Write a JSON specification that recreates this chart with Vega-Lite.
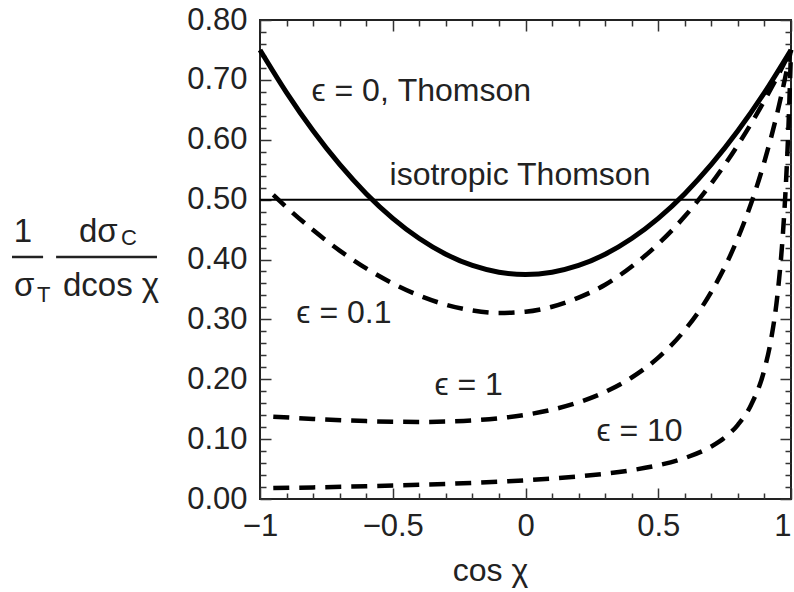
{
  "$schema": "https://vega.github.io/schema/vega-lite/v6.json",
  "width": 531,
  "height": 479,
  "autosize": {"type": "none"},
  "padding": {"left": 260, "top": 20, "right": 3, "bottom": 93},
  "background": "white",
  "config": {
    "view": {"stroke": "#222", "strokeWidth": 2},
    "font": "Liberation Sans",
    "axis": {"grid": false, "domain": false, "labelFlush": false, "tickColor": "#333", "tickWidth": 1.5, "labelColor": "#222", "labelFont": "Liberation Sans", "titleFont": "Liberation Sans", "titleColor": "#222", "labelFontSize": 31, "titleFontWeight": "normal"}
  },
  "datasets": {
    "curves": [
      {"eps": "0", "x": -1, "y": 0.75}, {"eps": "0", "x": -0.9, "y": 0.6788}, {"eps": "0", "x": -0.8, "y": 0.615}, {"eps": "0", "x": -0.7, "y": 0.5588}, {"eps": "0", "x": -0.6, "y": 0.51}, {"eps": "0", "x": -0.5, "y": 0.4688}, {"eps": "0", "x": -0.4, "y": 0.435}, {"eps": "0", "x": -0.3, "y": 0.4088}, {"eps": "0", "x": -0.2, "y": 0.39}, {"eps": "0", "x": -0.1, "y": 0.3788}, {"eps": "0", "x": 0, "y": 0.375}, {"eps": "0", "x": 0.1, "y": 0.3788}, {"eps": "0", "x": 0.2, "y": 0.39}, {"eps": "0", "x": 0.3, "y": 0.4088}, {"eps": "0", "x": 0.4, "y": 0.435}, {"eps": "0", "x": 0.5, "y": 0.4688}, {"eps": "0", "x": 0.6, "y": 0.51}, {"eps": "0", "x": 0.7, "y": 0.5588}, {"eps": "0", "x": 0.8, "y": 0.615}, {"eps": "0", "x": 0.9, "y": 0.6788}, {"eps": "0", "x": 1, "y": 0.75},
      {"eps": "0.1", "x": -0.95, "y": 0.508}, {"eps": "0.1", "x": -0.9, "y": 0.4873}, {"eps": "0.1", "x": -0.8, "y": 0.4491}, {"eps": "0.1", "x": -0.7, "y": 0.4149}, {"eps": "0.1", "x": -0.6, "y": 0.3852}, {"eps": "0.1", "x": -0.5, "y": 0.36}, {"eps": "0.1", "x": -0.4, "y": 0.3397}, {"eps": "0.1", "x": -0.3, "y": 0.3245}, {"eps": "0.1", "x": -0.2, "y": 0.3148}, {"eps": "0.1", "x": -0.1, "y": 0.3107}, {"eps": "0.1", "x": 0, "y": 0.3127}, {"eps": "0.1", "x": 0.1, "y": 0.3211}, {"eps": "0.1", "x": 0.2, "y": 0.3363}, {"eps": "0.1", "x": 0.3, "y": 0.3578}, {"eps": "0.1", "x": 0.4, "y": 0.3883}, {"eps": "0.1", "x": 0.5, "y": 0.426}, {"eps": "0.1", "x": 0.6, "y": 0.4721}, {"eps": "0.1", "x": 0.7, "y": 0.527}, {"eps": "0.1", "x": 0.8, "y": 0.5913}, {"eps": "0.1", "x": 0.9, "y": 0.6654}, {"eps": "0.1", "x": 0.95, "y": 0.7064}, {"eps": "0.1", "x": 1, "y": 0.75},
      {"eps": "1", "x": -0.95, "y": 0.1375}, {"eps": "1", "x": -0.8, "y": 0.1338}, {"eps": "1", "x": -0.6, "y": 0.1301}, {"eps": "1", "x": -0.5, "y": 0.129}, {"eps": "1", "x": -0.4, "y": 0.1287}, {"eps": "1", "x": -0.3, "y": 0.1294}, {"eps": "1", "x": -0.2, "y": 0.1313}, {"eps": "1", "x": -0.1, "y": 0.1349}, {"eps": "1", "x": 0, "y": 0.1406}, {"eps": "1", "x": 0.1, "y": 0.1492}, {"eps": "1", "x": 0.2, "y": 0.1615}, {"eps": "1", "x": 0.3, "y": 0.1788}, {"eps": "1", "x": 0.4, "y": 0.2029}, {"eps": "1", "x": 0.5, "y": 0.2361}, {"eps": "1", "x": 0.6, "y": 0.2821}, {"eps": "1", "x": 0.7, "y": 0.346}, {"eps": "1", "x": 0.8, "y": 0.4358}, {"eps": "1", "x": 0.85, "y": 0.494}, {"eps": "1", "x": 0.9, "y": 0.5638}, {"eps": "1", "x": 0.95, "y": 0.6479}, {"eps": "1", "x": 1, "y": 0.75},
      {"eps": "10", "x": -0.95, "y": 0.0182}, {"eps": "10", "x": -0.8, "y": 0.0194}, {"eps": "10", "x": -0.6, "y": 0.0213}, {"eps": "10", "x": -0.4, "y": 0.0237}, {"eps": "10", "x": -0.2, "y": 0.0269}, {"eps": "10", "x": 0, "y": 0.0313}, {"eps": "10", "x": 0.2, "y": 0.0377}, {"eps": "10", "x": 0.4, "y": 0.0482}, {"eps": "10", "x": 0.5, "y": 0.0564}, {"eps": "10", "x": 0.6, "y": 0.0684}, {"eps": "10", "x": 0.7, "y": 0.0877}, {"eps": "10", "x": 0.75, "y": 0.1025}, {"eps": "10", "x": 0.8, "y": 0.1239}, {"eps": "10", "x": 0.85, "y": 0.1574}, {"eps": "10", "x": 0.9, "y": 0.2166}, {"eps": "10", "x": 0.925, "y": 0.2666}, {"eps": "10", "x": 0.95, "y": 0.3449}, {"eps": "10", "x": 0.97, "y": 0.446}, {"eps": "10", "x": 0.98, "y": 0.5192}, {"eps": "10", "x": 0.99, "y": 0.6165}, {"eps": "10", "x": 1, "y": 0.75}
    ],
    "iso": [{"x": -1, "y": 0.5}, {"x": 1, "y": 0.5}],
    "notes": [
      {"x": -0.806, "y": 0.6814, "t": "ϵ = 0, Thomson"},
      {"x": -0.512, "y": 0.5411, "t": "isotropic Thomson"},
      {"x": -0.863, "y": 0.3106, "t": "ϵ = 0.1"},
      {"x": -0.343, "y": 0.1904, "t": "ϵ = 1"},
      {"x": 0.267, "y": 0.1136, "t": "ϵ = 10"}
    ],
    "frac": [
      {"x": -1.8927, "y": 0.4292, "t": "1", "a": "c"},
      {"x": -1.6817, "y": 0.4292, "t": "dσ", "a": "l"},
      {"x": -1.9266, "y": 0.339, "t": "σ", "a": "l"},
      {"x": -1.742, "y": 0.339, "t": "dcos χ", "a": "l"}
    ],
    "sub": [
      {"x": -1.5235, "y": 0.4242, "t": "C"},
      {"x": -1.8399, "y": 0.329, "t": "T"}
    ],
    "bars": [
      {"x": -1.934, "x2": -1.817, "y": 0.4042},
      {"x": -1.768, "x2": -1.388, "y": 0.4042}
    ]
  },
  "resolve": {"axis": {"x": "independent", "y": "independent"}},
  "layer": [
    {
      "data": {"name": "curves"},
      "transform": [{"filter": "datum.eps == '0'"}],
      "mark": {"type": "line", "color": "black", "strokeWidth": 5, "interpolate": "monotone"},
      "encoding": {
        "x": {"field": "x", "type": "quantitative", "scale": {"domain": [-1, 1], "nice": false, "zero": false},
              "axis": {"orient": "bottom", "values": [-1, -0.5, 0, 0.5, 1], "format": "~g", "tickSize": 11, "offset": -11, "labelPadding": 12, "labelFlush": false,
                       "labelAlign": {"condition": {"test": "datum.value == 1", "value": "right"}, "value": "center"},
                       "title": "cos χ", "titleFontSize": 32, "titlePadding": 14, "titleX": 230, "titleAlign": "center"}},
        "y": {"field": "y", "type": "quantitative", "scale": {"domain": [0, 0.8], "nice": false},
              "axis": {"orient": "left", "values": [0, 0.1, 0.2, 0.3, 0.4, 0.5, 0.6, 0.7, 0.8], "format": ".2f", "tickSize": 11, "offset": -11, "labelPadding": 13, "labelFlush": false, "title": null}}
      }
    },
    {
      "data": {"name": "curves"},
      "transform": [{"filter": "datum.eps != '0'"}],
      "mark": {"type": "line", "color": "black", "strokeWidth": 4.5, "strokeDash": [16, 10], "interpolate": "monotone"},
      "encoding": {
        "detail": {"field": "eps", "type": "nominal"},
        "x": {"field": "x", "type": "quantitative", "scale": {"domain": [-1, 1], "nice": false, "zero": false},
              "axis": {"orient": "bottom", "values": [-0.9, -0.8, -0.7, -0.6, -0.4, -0.3, -0.2, -0.1, 0.1, 0.2, 0.3, 0.4, 0.6, 0.7, 0.8, 0.9], "labels": false, "tickSize": 6, "offset": -6, "title": null}},
        "y": {"field": "y", "type": "quantitative", "scale": {"domain": [0, 0.8], "nice": false},
              "axis": {"orient": "left", "values": [0.02, 0.04, 0.06, 0.08, 0.12, 0.14, 0.16, 0.18, 0.22, 0.24, 0.26, 0.28, 0.32, 0.34, 0.36, 0.38, 0.42, 0.44, 0.46, 0.48, 0.52, 0.54, 0.56, 0.58, 0.62, 0.64, 0.66, 0.68, 0.72, 0.74, 0.76, 0.78], "labels": false, "tickSize": 6, "offset": -6, "title": null}}
      }
    },
    {
      "data": {"name": "iso"},
      "mark": {"type": "line", "color": "black", "strokeWidth": 2},
      "encoding": {
        "x": {"field": "x", "type": "quantitative", "scale": {"domain": [-1, 1], "nice": false, "zero": false},
              "axis": {"orient": "top", "values": [-1, -0.5, 0, 0.5, 1], "labels": false, "tickSize": 11, "offset": -11, "title": null}},
        "y": {"field": "y", "type": "quantitative", "scale": {"domain": [0, 0.8], "nice": false},
              "axis": {"orient": "right", "values": [0, 0.1, 0.2, 0.3, 0.4, 0.5, 0.6, 0.7, 0.8], "labels": false, "tickSize": 11, "offset": -11, "title": null}}
      }
    },
    {
      "data": {"name": "notes"},
      "mark": {"type": "text", "align": "left", "baseline": "middle", "fontSize": 32, "color": "#222"},
      "encoding": {
        "text": {"field": "t"},
        "x": {"field": "x", "type": "quantitative", "scale": {"domain": [-1, 1], "nice": false, "zero": false},
              "axis": {"orient": "top", "values": [-0.9, -0.8, -0.7, -0.6, -0.4, -0.3, -0.2, -0.1, 0.1, 0.2, 0.3, 0.4, 0.6, 0.7, 0.8, 0.9], "labels": false, "tickSize": 6, "offset": -6, "title": null}},
        "y": {"field": "y", "type": "quantitative", "scale": {"domain": [0, 0.8], "nice": false},
              "axis": {"orient": "right", "values": [0.02, 0.04, 0.06, 0.08, 0.12, 0.14, 0.16, 0.18, 0.22, 0.24, 0.26, 0.28, 0.32, 0.34, 0.36, 0.38, 0.42, 0.44, 0.46, 0.48, 0.52, 0.54, 0.56, 0.58, 0.62, 0.64, 0.66, 0.68, 0.72, 0.74, 0.76, 0.78], "labels": false, "tickSize": 6, "offset": -6, "title": null}}
      }
    },
    {
      "data": {"name": "frac"},
      "transform": [{"filter": "datum.a == 'l'"}],
      "mark": {"type": "text", "align": "left", "baseline": "alphabetic", "fontSize": 33, "color": "#222"},
      "encoding": {
        "text": {"field": "t"},
        "x": {"field": "x", "type": "quantitative", "scale": {"domain": [-1, 1], "nice": false, "zero": false}, "axis": null},
        "y": {"field": "y", "type": "quantitative", "scale": {"domain": [0, 0.8], "nice": false}, "axis": null}
      }
    },
    {
      "data": {"name": "frac"},
      "transform": [{"filter": "datum.a == 'c'"}],
      "mark": {"type": "text", "align": "center", "baseline": "alphabetic", "fontSize": 33, "color": "#222"},
      "encoding": {
        "text": {"field": "t"},
        "x": {"field": "x", "type": "quantitative", "scale": {"domain": [-1, 1], "nice": false, "zero": false}, "axis": null},
        "y": {"field": "y", "type": "quantitative", "scale": {"domain": [0, 0.8], "nice": false}, "axis": null}
      }
    },
    {
      "data": {"name": "sub"},
      "mark": {"type": "text", "align": "left", "baseline": "alphabetic", "fontSize": 22, "color": "#222"},
      "encoding": {
        "text": {"field": "t"},
        "x": {"field": "x", "type": "quantitative", "scale": {"domain": [-1, 1], "nice": false, "zero": false}, "axis": null},
        "y": {"field": "y", "type": "quantitative", "scale": {"domain": [0, 0.8], "nice": false}, "axis": null}
      }
    },
    {
      "data": {"name": "bars"},
      "mark": {"type": "rule", "color": "#222", "strokeWidth": 2.5},
      "encoding": {
        "x": {"field": "x", "type": "quantitative", "scale": {"domain": [-1, 1], "nice": false, "zero": false}, "axis": null},
        "x2": {"field": "x2"},
        "y": {"field": "y", "type": "quantitative", "scale": {"domain": [0, 0.8], "nice": false}, "axis": null}
      }
    }
  ]
}
